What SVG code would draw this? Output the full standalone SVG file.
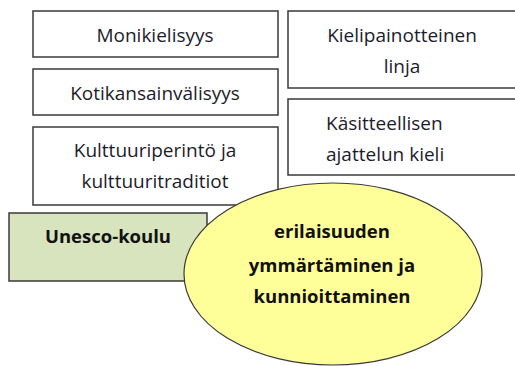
<svg xmlns="http://www.w3.org/2000/svg" width="515" height="366" viewBox="0 0 515 366">
<style>
.box{fill:#fff;stroke:#3a3a3a;stroke-width:1.5}
.t{font-family:"Open Sans","Liberation Sans",sans-serif;font-size:19px;fill:#1c1c2c;text-anchor:middle}
.b{font-weight:bold;fill:#111;font-size:18.5px}
</style>
<rect width="515" height="366" fill="#fff"/>
<g id="monikielisyys"><rect class="box" x="33" y="11" width="245" height="46"/><text class="t" x="155" y="42">Monikielisyys</text></g>
<g id="kotikansainvalisyys"><rect class="box" x="33" y="69" width="245" height="46"/><text class="t" x="155" y="100">Kotikansainvälisyys</text></g>
<g id="kulttuuriperinto"><rect class="box" x="33" y="127" width="245" height="78"/><text class="t" x="155" y="157">Kulttuuriperintö ja</text><text class="t" x="155" y="188">kulttuuritraditiot</text></g>
<g id="kielipainotteinen"><rect class="box" x="288" y="11" width="240" height="77"/><text class="t" x="402" y="42">Kielipainotteinen</text><text class="t" x="402" y="73">linja</text></g>
<g id="kasitteellisen"><rect class="box" x="288" y="99" width="240" height="76"/><text class="t" x="326" y="130" style="text-anchor:start">Käsitteellisen</text><text class="t" x="326" y="161" style="text-anchor:start">ajattelun kieli</text></g>
<g id="unesco"><rect x="9" y="213" width="198" height="68" fill="#d7e4bd" stroke="#3a3a3a" stroke-width="1.5"/><text class="t b" x="108" y="243">Unesco-koulu</text></g>
<g id="erilaisuus"><ellipse cx="333" cy="274" rx="149" ry="91" fill="#ffff99" stroke="#3a3a3a" stroke-width="1.2"/><text class="t b" x="332" y="238">erilaisuuden</text><text class="t b" x="332" y="272">ymmärtäminen ja</text><text class="t b" x="332" y="303">kunnioittaminen</text></g>
<g id="connectors"/>
</svg>
